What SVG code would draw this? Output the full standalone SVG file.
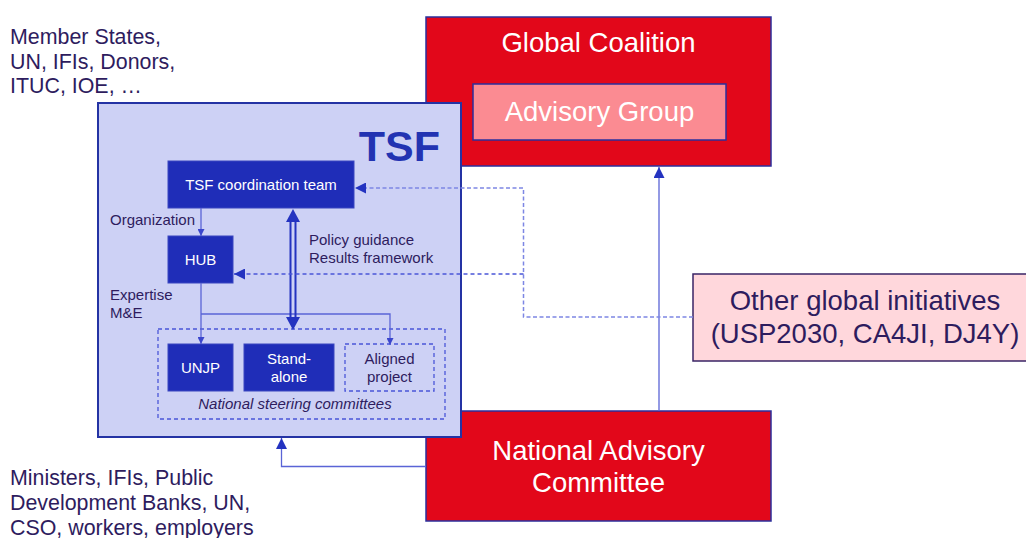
<svg xmlns="http://www.w3.org/2000/svg" width="1026" height="538" viewBox="0 0 1026 538">
<style>
text{font-family:"Liberation Sans",Arial,sans-serif}
.dk{fill:#2e1c5e}
.wt{fill:#ffffff}
.red{fill:#e2071a;stroke:#2b2f9c;stroke-width:1.5}
.blue{fill:#1f2db8;stroke:#3a46c0;stroke-width:1}
.thin{stroke:#5a64d6;stroke-width:1.3;fill:none}
.dash{stroke:#4a56d8;stroke-width:1.3;fill:none;stroke-dasharray:4 3}
.dashl{stroke:#7d86e4;stroke-width:1.5;fill:none;stroke-dasharray:4 2.5}
</style>
<defs>
<marker id="sm" viewBox="0 0 10 10" refX="10" refY="5" markerWidth="7" markerHeight="7" markerUnits="userSpaceOnUse" orient="auto"><path d="M0,0 L10,5 L0,10 Z" fill="#3b46cc"/></marker>
<marker id="md" viewBox="0 0 10 10" refX="10" refY="5" markerWidth="11" markerHeight="11" markerUnits="userSpaceOnUse" orient="auto"><path d="M0,0 L10,5 L0,10 Z" fill="#2433c0"/></marker>
</defs>
<rect width="1026" height="538" fill="#ffffff"/>

<g id="global-coalition">
<rect class="red" x="426" y="17" width="345" height="149"/>
<text class="wt" x="598.5" y="52" font-size="27.5" text-anchor="middle">Global Coalition</text>
</g>
<g id="advisory-group">
<rect x="473" y="84" width="253" height="56" fill="#fb8b92" stroke="#2b2f9c" stroke-width="1.5"/>
<text class="wt" x="599.5" y="121" font-size="27.5" text-anchor="middle">Advisory Group</text>
</g>
<g id="national-advisory-committee">
<rect class="red" x="426" y="411" width="345" height="110"/>
<text class="wt" x="598.5" y="460" font-size="27.5" text-anchor="middle">National Advisory</text>
<text class="wt" x="598.5" y="492" font-size="27.5" text-anchor="middle">Committee</text>
</g>
<g id="other-global-initiatives">
<rect x="693" y="274" width="340" height="87" fill="#ffd7dc" stroke="#3a2466" stroke-width="1.5"/>
<text class="dk" x="865" y="310" font-size="27.5" text-anchor="middle">Other global initiatives</text>
<text class="dk" x="865" y="343" font-size="27.5" text-anchor="middle">(USP2030, CA4JI, DJ4Y)</text>
</g>

<g id="connectors-outer">
<path class="thin" d="M659,411 V167" marker-end="url(#md)"/>
<path class="thin" d="M426,466.5 H281.5 V438" marker-end="url(#md)"/>
</g>

<g id="tsf">
<rect x="98" y="103" width="363" height="334" fill="#cdd1f5" stroke="#2433a4" stroke-width="2"/>
<text x="440" y="161" font-size="43" font-weight="bold" fill="#2233b2" text-anchor="end">TSF</text>
</g>

<g id="labels">
<text class="dk" x="10" y="44" font-size="21.4">Member States,</text>
<text class="dk" x="10" y="69" font-size="21.4">UN, IFIs, Donors,</text>
<text class="dk" x="10" y="93" font-size="21.4">ITUC, IOE, …</text>
<text class="dk" x="10" y="485" font-size="21.4">Ministers, IFIs, Public</text>
<text class="dk" x="10" y="510" font-size="21.4">Development Banks, UN,</text>
<text class="dk" x="10" y="535" font-size="21.4">CSO, workers, employers</text>
<text class="dk" x="110" y="225" font-size="15">Organization</text>
<text class="dk" x="110" y="300" font-size="15">Expertise</text>
<text class="dk" x="110" y="318" font-size="15">M&amp;E</text>
<text class="dk" x="309" y="245" font-size="15">Policy guidance</text>
<text class="dk" x="309" y="263" font-size="15">Results framework</text>
</g>

<g id="nsc">
<rect x="158" y="329" width="287" height="90" class="dash"/>
<text class="dk" x="295" y="409" font-size="15" font-style="italic" text-anchor="middle">National steering committees</text>
</g>
<g id="coordination-team">
<rect class="blue" x="168" y="161" width="186" height="47"/>
<text class="wt" x="261" y="190" font-size="15" text-anchor="middle">TSF coordination team</text>
</g>
<g id="hub">
<rect class="blue" x="168" y="236" width="65" height="47"/>
<text class="wt" x="200.5" y="265" font-size="15" text-anchor="middle">HUB</text>
</g>
<g id="unjp">
<rect class="blue" x="168" y="344" width="65" height="47"/>
<text class="wt" x="200.5" y="373" font-size="15" text-anchor="middle">UNJP</text>
</g>
<g id="stand-alone">
<rect class="blue" x="244" y="344" width="90" height="47"/>
<text class="wt" x="289" y="364" font-size="15" text-anchor="middle">Stand-</text>
<text class="wt" x="289" y="382" font-size="15" text-anchor="middle">alone</text>
</g>
<g id="aligned-project">
<rect x="345" y="344" width="89" height="47" class="dash"/>
<text class="dk" x="389.5" y="364" font-size="15" text-anchor="middle">Aligned</text>
<text class="dk" x="389.5" y="382" font-size="15" text-anchor="middle">project</text>
</g>

<g id="connectors">
<path class="thin" d="M201,208 V236" marker-end="url(#sm)"/>
<path class="thin" d="M201,283 V344" marker-end="url(#sm)"/>
<path class="thin" d="M201,314 H390 V345" marker-end="url(#sm)"/>
<path d="M290.5,220 V319 M295.5,220 V319" stroke="#2433c0" stroke-width="2" fill="none"/>
<path d="M293,209 L300,222 L286,222 Z" fill="#2433c0"/>
<path d="M293,330 L300,317 L286,317 Z" fill="#2433c0"/>
<path class="dashl" d="M693,317 H523.5 V188 H355" marker-end="url(#md)"/>
<path class="dash" d="M523.5,274 H234" marker-end="url(#md)"/>
</g>
</svg>
